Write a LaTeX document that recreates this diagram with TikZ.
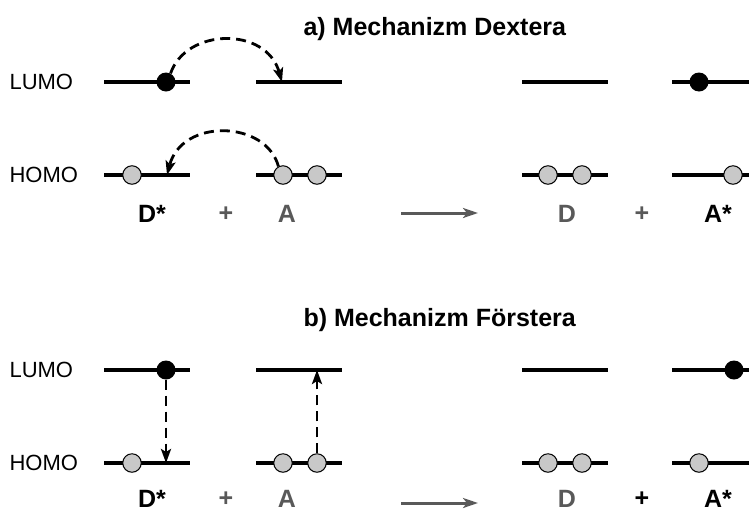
\documentclass[tikz,border=0pt]{standalone}
\usepackage{fontspec}
\setmainfont{Liberation Sans}
\usetikzlibrary{arrows.meta}
\definecolor{textgrey}{HTML}{595959}
\definecolor{dotgrey}{HTML}{C8C8C8}

\begin{document}
\begin{tikzpicture}[x=1pt,y=-1pt,
    level/.style={line width=3.2pt},
    full/.style={circle,fill=black,inner sep=0pt,minimum size=19pt},
    hole/.style={circle,draw=black,line width=1pt,fill=dotgrey,inner sep=0pt,minimum size=18.5pt},
    hop/.style={line width=2.8pt,dash pattern=on 10pt off 6pt,-{Stealth[length=14pt,width=10pt,inset=3pt]}},
    react/.style={draw=textgrey,line width=3pt,-{Stealth[length=15pt,width=10pt,inset=4pt]}},
    orb/.style={font=\fontsize{22}{26}\selectfont,anchor=west},
    mol/.style={font=\bfseries\fontsize{25}{30}\selectfont,inner sep=0pt},
    head/.style={font=\bfseries\fontsize{25}{30}\selectfont,anchor=west}]
        % page 749 x 512, y grows downwards
        \clip (0,0) rectangle (749,512);

        % energy levels: D*, A, D, A* for both mechanisms
        \foreach \y in {82,175,370,463}{
            \draw[level] (104,\y) -- (190,\y);
            \draw[level] (256,\y) -- (342,\y);
            \draw[level] (522,\y) -- (608,\y);
            \draw[level] (672,\y) -- (760,\y);
        }

        % a) Dexter
        \node[head] (titleA) at (300,29) {a) Mechanizm Dextera};
        \node[orb] (lumoA) at (6,82) {LUMO};
        \node[orb] (homoA) at (6,175) {HOMO};

        \node[full] (eDa) at (166,82) {};
        \node[hole] (hDa) at (132,175) {};
        \node[hole] (hAa1) at (283,175) {};
        \node[hole] (hAa2) at (317,175) {};
        \node[hole] (hDa1) at (548,175) {};
        \node[hole] (hDa2) at (582,175) {};
        \node[full] (eAa) at (699,82) {};
        \node[hole] (hAa) at (733,175) {};

        \coordinate (tLa) at (282,82);
        \coordinate (tHa) at (167,175);
        \draw[hop] (eDa.62) .. controls (186,28) and (266,26) .. (tLa);
        \draw[hop] (hAa1.118) .. controls (266,120) and (182,118) .. (tHa);

        \node[mol] (Dsa) at (152,214) {D*};
        \node[mol,textgrey] (p1a) at (226,214) {+};
        \node[mol,textgrey] (Aa) at (287,214) {A};
        \node[mol,textgrey] (Da) at (567,214) {D};
        \node[mol,textgrey] (p2a) at (642,214) {+};
        \node[mol] (Asa) at (718,214) {A*};
        \coordinate (ra1) at (401,213);
        \coordinate (ra2) at (478,213);
        \draw[react] (ra1) -- (ra2);

        % b) Foerster
        \node[head] (titleB) at (300,320) {b) Mechanizm Förstera};
        \node[orb] (lumoB) at (6,370) {LUMO};
        \node[orb] (homoB) at (6,463) {HOMO};

        \node[full] (eDb) at (166,370) {};
        \node[hole] (hDb) at (132,463) {};
        \node[hole] (hAb1) at (283,463) {};
        \node[hole] (hAb2) at (317,463) {};
        \node[hole] (hDb1) at (548,463) {};
        \node[hole] (hDb2) at (582,463) {};
        \node[full] (eAb) at (734,370) {};
        \node[hole] (hAb) at (699,463) {};

        \coordinate (tHb) at (166,463);
        \coordinate (tLb) at (317,370);
        \draw[hop] (eDb.south) -- (tHb);
        \draw[hop] (hAb2.north) -- (tLb);

        \node[mol] (Dsb) at (152,499) {D*};
        \node[mol,textgrey] (p1b) at (226,499) {+};
        \node[mol,textgrey] (Ab) at (287,499) {A};
        \node[mol,textgrey] (Db) at (567,499) {D};
        \node[mol] (p2b) at (642,499) {+};
        \node[mol] (Asb) at (718,499) {A*};
        \coordinate (rb1) at (401,503);
        \coordinate (rb2) at (478,503);
        \draw[react] (rb1) -- (rb2);
    \end{tikzpicture}
\end{document}
